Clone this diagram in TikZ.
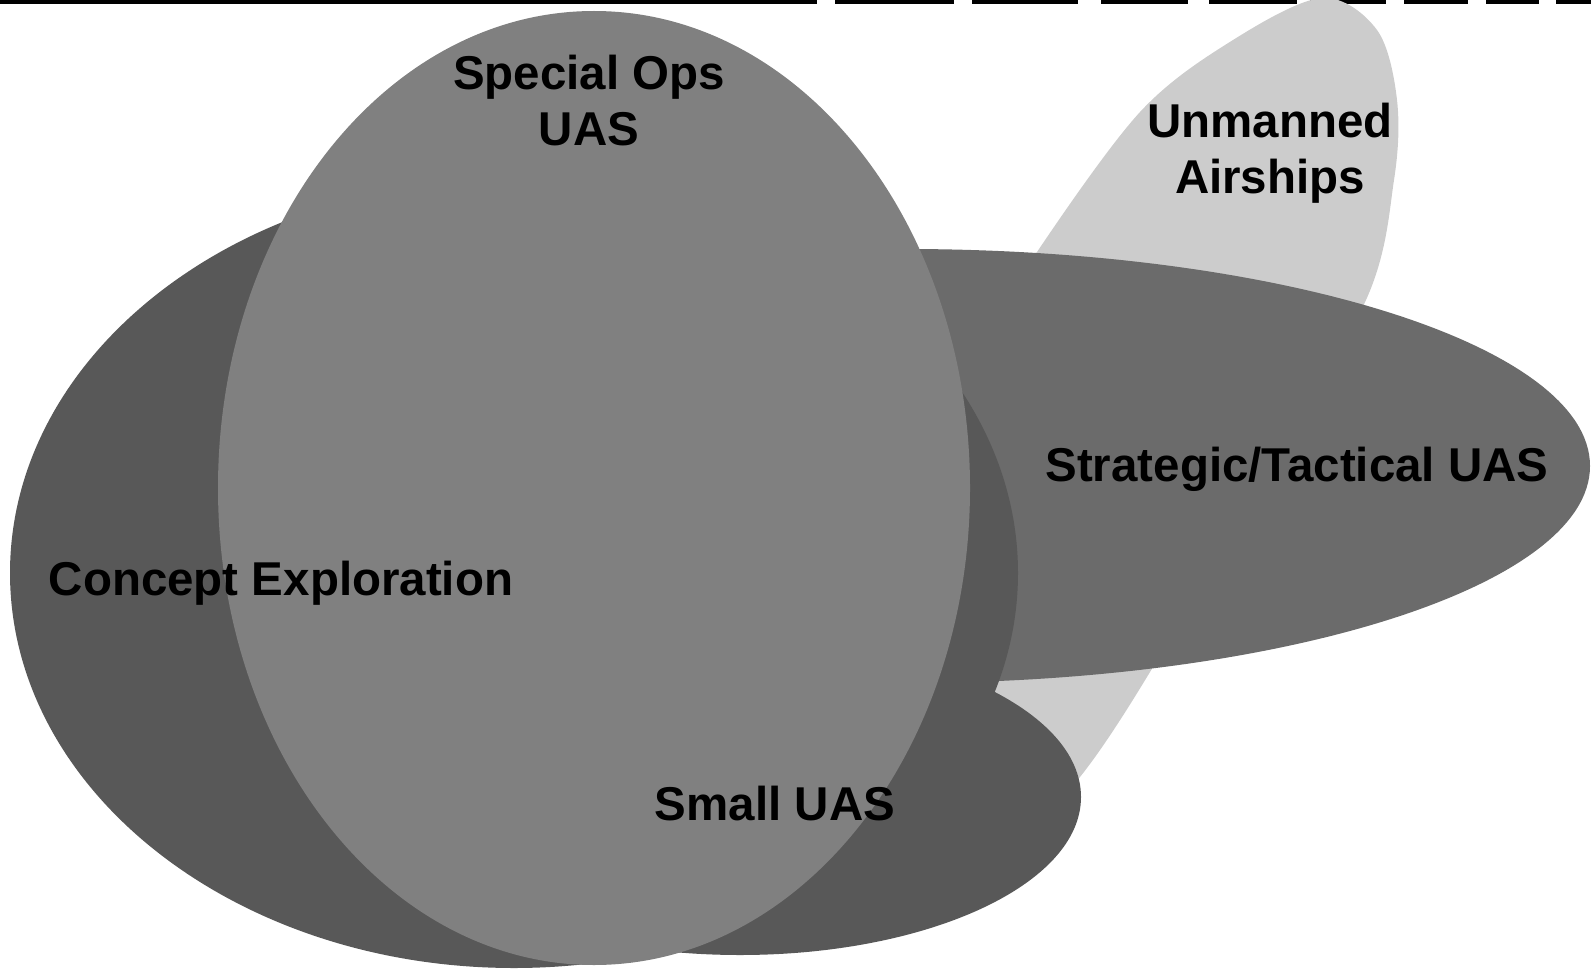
\documentclass[tikz,border=0pt]{standalone}
\usepackage{fontspec}
\setmainfont{Liberation Sans}

\definecolor{airship}{gray}{0.80}	% light gray of the airships
\definecolor{strategic}{gray}{0.42}
\definecolor{concept}{gray}{0.345}	% used for concept exploration and small UAS
\definecolor{specialops}{gray}{0.50}

\tikzset{
	lbl/.style={inner sep=0pt, align=center, text=black, font=\fontsize{13.5}{16.2}\selectfont\bfseries},
	rulebar/.style={fill=black, draw=none}
}

\begin{document}
\begin{tikzpicture}[x=0.01cm, y=-0.01cm]

	% one unit is one pixel of the reference, y runs downwards
	\useasboundingbox (0,0) rectangle (1591,970);

	\foreach \a/\b in {0/817, 835/954, 972/1078, 1101/1188, 1209/1297, 1310/1386, 1404/1468, 1486/1539, 1556/1591}{% broken rule at the top
		\fill[rulebar] (\a,0) rectangle (\b,4);
	}

	% shapes, from the back to the front
	\fill[airship] plot[smooth cycle, tension=0.55] coordinates {(1322,-2) (1377,30) (1397,100) (1394,180) (1366,300) (1256,486) (1150,672) (1080,777) (1020,835) (985,790) (990,600) (1000,320) (1037,252) (1140,112) (1233,40)};
	\fill[strategic] (905,466) ellipse [x radius=685, y radius=217];
	\fill[concept] (514,573) ellipse [x radius=504, y radius=395];
	\fill[concept] (740,797) ellipse [x radius=341, y radius=158];
	\fill[specialops] (594,488) ellipse [x radius=376, y radius=477];

	% labels (base is the baseline of the last line)
	\node[lbl, anchor=base] (ops) at (589,146) {Special Ops\\UAS};
	\node[lbl, anchor=base] (airships) at (1270,194) {Unmanned\\Airships};
	\node[lbl, anchor=base] (strat) at (1297,481) {Strategic/Tactical UAS};
	\node[lbl, anchor=base] (concept) at (281,595) {Concept Exploration};
	\node[lbl, anchor=base] (small) at (775,820) {Small UAS};

\end{tikzpicture}
\end{document}
